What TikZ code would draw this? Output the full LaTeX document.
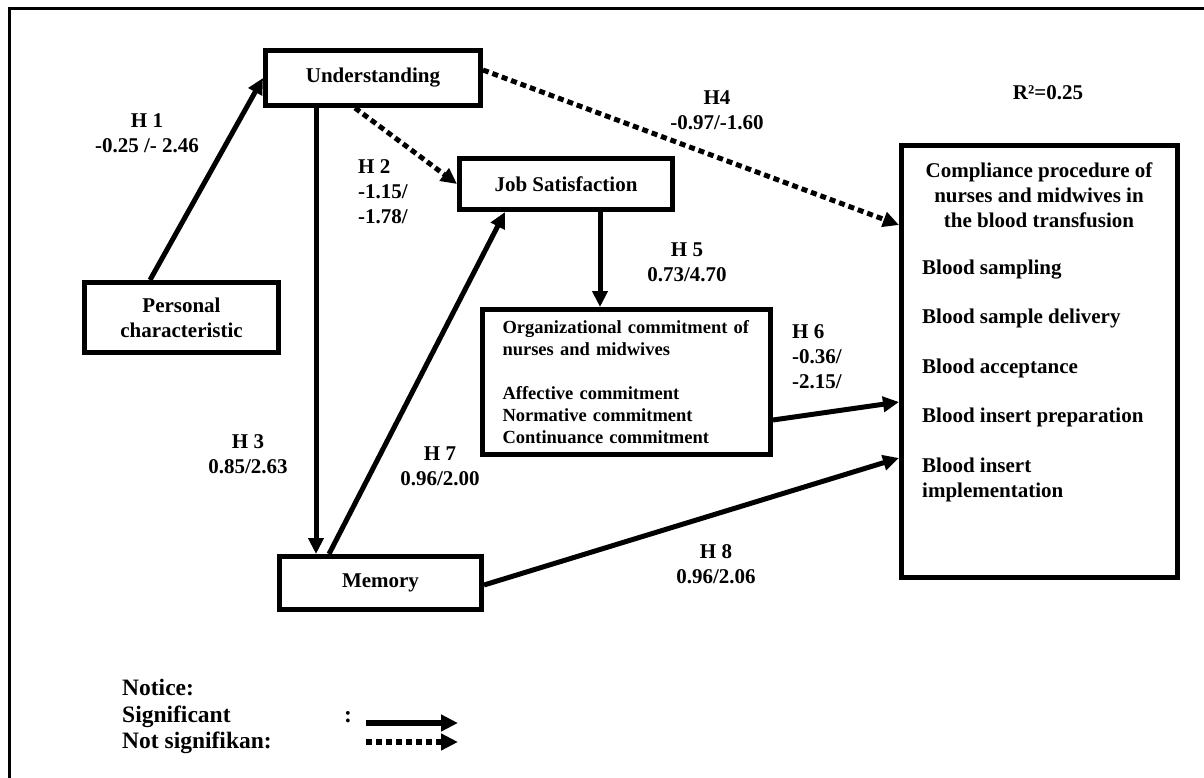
\documentclass[tikz,border=0pt]{standalone}
\usepackage{fontspec}
\setmainfont{Liberation Serif}
\usetikzlibrary{arrows.meta}

\begin{document}
\begin{tikzpicture}[x=1pt,y=-1pt,
    every node/.style={font=\bfseries\fontsize{21}{25}\selectfont, inner sep=0pt},
    box/.style={draw, line width=5pt, align=center},
    lbl/.style={align=center},
    sig/.style={line width=5pt, -{Triangle[length=16pt,width=15pt]}},
    nsig/.style={line width=5pt, dash pattern=on 6pt off 4pt, -{Triangle[length=16pt,width=15pt]}}]
    \useasboundingbox (0,0) rectangle (1204,778);
    % frame
    \draw[line width=3pt] (9,778) -- (9,9) -- (1204,9);

    \node[box, minimum width=215pt, minimum height=55pt] (UND) at (373,78) {Understanding};
    \node[box, minimum width=194pt, minimum height=70pt] (PERS) at (181.5,317.5) {Personal\\characteristic};
    \node[box, minimum width=213pt, minimum height=51pt] (JOB) at (566,184) {Job Satisfaction};
    \node[box, minimum width=288pt, minimum height=145pt, align=left, text width=248pt, inner xsep=20pt,
          font=\bfseries\fontsize{18.5}{22}\selectfont] (ORG) at (626.5,382)
          {Organizational commitment of\\nurses and midwives\\[22pt]Affective commitment\\Normative commitment\\Continuance commitment};
    \node[box, minimum width=202pt, minimum height=53pt] (MEM) at (380.5,583) {Memory};
    \node[box, minimum width=276pt, minimum height=432pt] (COMP) at (1039.5,361.5) {};
    \node[lbl] (COMPT) at (1039,195) {Compliance procedure of\\nurses and midwives in\\the blood transfusion};
    \node[align=left, anchor=west] (COMPL) at (922,380.5)
          {Blood sampling\\[24.5pt]Blood sample delivery\\[24.5pt]Blood acceptance\\[24.5pt]Blood insert preparation\\[24.5pt]Blood insert\\implementation};
    \node (RSQ) at (1048,93) {R²=0.25};

    % hypotheses
    \node[lbl] (H1) at (147,133) {H 1\\-0.25 /- 2.46};
    \node[align=left, anchor=west] (H2) at (358,192) {H 2\\-1.15/\\-1.78/};
    \node[lbl] (H3) at (248,454.5) {H 3\\0.85/2.63};
    \node[lbl] (H4) at (717,110.5) {H4\\-0.97/-1.60};
    \node[lbl] (H5) at (687,262.5) {H 5\\0.73/4.70};
    \node[align=left, anchor=west] (H6) at (792,357) {H 6\\-0.36/\\-2.15/};
    \node[lbl] (H7) at (440,466.5) {H 7\\0.96/2.00};
    \node[lbl] (H8) at (716,564) {H 8\\0.96/2.06};

    \draw[sig] ([xshift=-31.5pt]PERS.north) -- (UND.west);
    \draw[nsig] ([xshift=-18pt]UND.south) -- (JOB.west);
    \draw[sig] ([xshift=-57pt]UND.south) -- ([xshift=-64.5pt]MEM.north);
    \draw[nsig] ([yshift=8pt]UND.east) -- ([yshift=136.5pt]COMP.west);
    \draw[sig] ([xshift=34pt]JOB.south) -- ([xshift=-26.5pt]ORG.north);
    \draw[sig] ([yshift=-38pt]ORG.east) -- ([yshift=-40.5pt]COMP.west);
    \draw[sig] ([xshift=-51.5pt]MEM.north) -- ([xshift=-61pt]JOB.south);
    \draw[sig] ([yshift=-2pt]MEM.east) -- ([yshift=-96.5pt]COMP.west);

    % legend
    \node[anchor=west, align=left, font=\bfseries\fontsize{23.5}{26.5}\selectfont] (NOTE) at (122,716.5)
          {Notice:\\Significant\\Not signifikan:};
    \node[font=\bfseries\fontsize{23.5}{26.5}\selectfont] (COLON) at (348,717) {:};
    \coordinate (SA) at (366,723);
    \coordinate (SB) at (458,723);
    \coordinate (NA) at (366,742);
    \coordinate (NB) at (458,742);
    \draw[sig, line width=6pt, -{Triangle[length=17pt,width=16pt]}] (SA) -- (SB);
    \draw[nsig, line width=6pt, -{Triangle[length=17pt,width=16pt]}] (NA) -- (NB);
\end{tikzpicture}
\end{document}
